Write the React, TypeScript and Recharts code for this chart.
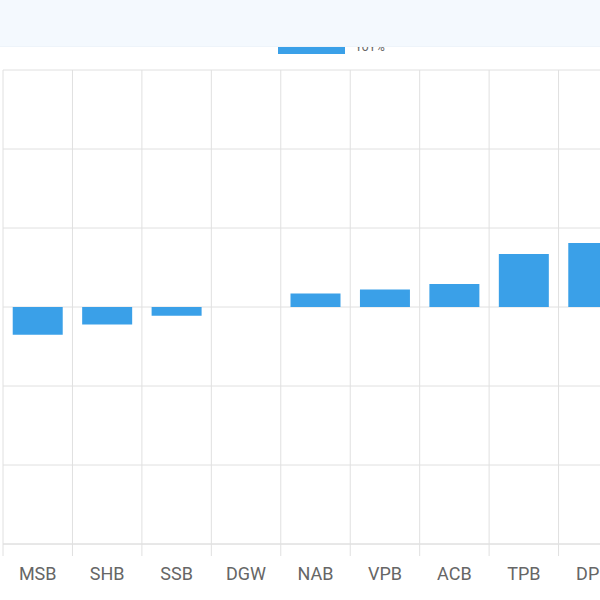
import React from "react";
import { BarChart, Bar, XAxis, YAxis, CartesianGrid, Legend } from "recharts";

const categories = ["MSB", "SHB", "SSB", "DGW", "NAB", "VPB", "ACB", "TPB", "DPB"];
const values = [-3.5, -2.2, -1.1, 0, 1.7, 2.2, 2.9, 6.7, 8.1];
const yTicks = [-30, -20, -10, 0, 10, 20, 30];
const seriesName = "YoY%";

const data = categories.map((c, i) => ({ name: c, value: values[i] }));

const CHART_W = 660;
const CHART_H = 600;
const MARGIN = { top: 70, right: 32, bottom: 0, left: 3 };
const PLOT_W = CHART_W - MARGIN.left - MARGIN.right;
const BAND = PLOT_W / categories.length;

const GRID = "#e0e0e0";

const Tick = (props: any) => {
  const { x, y, payload } = props;
  return (
    <g>
      <line x1={x - BAND / 2} x2={x - BAND / 2} y1={y - 23} y2={y - 11} stroke={GRID} />
      <text
        x={x}
        y={y}
        dy="0.71em"
        textAnchor="middle"
        fill="#666"
        fontSize={18}
        fontFamily="Roboto, sans-serif"
      >
        {payload.value}
      </text>
    </g>
  );
};

const LegendContent = () => (
  <div style={{ display: "flex", alignItems: "center", fontFamily: "Roboto, sans-serif" }}>
    <div style={{ width: 67, height: 13, background: "#3aa0e8", marginRight: 10 }} />
    <span style={{ fontSize: 12, color: "#666" }}>{seriesName}</span>
  </div>
);

export default function App() {
  return (
    <div
      style={{
        position: "fixed",
        left: 0,
        top: 0,
        width: 600,
        height: 600,
        overflow: "hidden",
        background: "#fff",
      }}
    >
      <BarChart
        width={CHART_W}
        height={CHART_H}
        data={data}
        margin={MARGIN}
        barCategoryGap="14%"
      >
        <CartesianGrid
          stroke={GRID}
          strokeWidth={1}
          verticalCoordinatesGenerator={({ offset }: any) =>
            Array.from({ length: categories.length + 1 }, (_, k) => offset.left + (k * offset.width) / categories.length)
          }
        />
        <YAxis hide domain={[-30, 30]} ticks={yTicks} />
        <XAxis
          dataKey="name"
          axisLine={{ stroke: GRID }}
          tickLine={false}
          tickSize={12}
          tickMargin={11}
          height={56}
          interval={0}
          tick={<Tick />}
        />
        <Legend
          verticalAlign="middle"
          layout="horizontal"
          content={<LegendContent />}
          wrapperStyle={{ top: 40, left: 278, width: "auto" }}
        />
        <Bar dataKey="value" name={seriesName} fill="#3aa0e8" isAnimationActive={false} />
      </BarChart>
      <div
        style={{
          position: "absolute",
          left: 0,
          top: 0,
          width: 600,
          height: 46,
          background: "#f4f9fe",
          borderBottom: "1px solid #eef4fa",
          zIndex: 5,
        }}
      />
    </div>
  );
}
